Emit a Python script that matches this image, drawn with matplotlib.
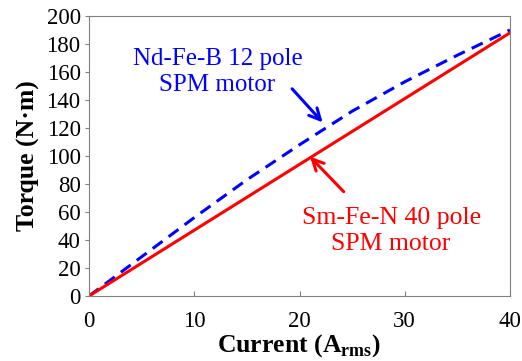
import matplotlib

matplotlib.use("Agg")

import matplotlib.pyplot as plt

# Current (A rms) vs torque (N m)
current = [0, 5, 10, 15, 20, 25, 30, 35, 40]
torque_ndfeb = [0, 28, 56, 83, 108, 132, 153, 172, 190]
torque_smfen = [0, 23.5, 47, 70.5, 94, 117.5, 141, 164.5, 188]

plt.rcParams["font.family"] = "serif"
plt.rcParams["font.serif"] = ["Liberation Serif", "DejaVu Serif"]
plt.rcParams["mathtext.fontset"] = "custom"
plt.rcParams["mathtext.rm"] = "Liberation Serif:bold"
plt.rcParams["mathtext.bf"] = "Liberation Serif:bold"

fig = plt.figure(figsize=(5.22, 3.61), dpi=100)
ax = fig.add_axes([89 / 522, 65 / 361, 421 / 522, 280 / 361])

ax.plot(current, torque_ndfeb, color="#0000ff", linewidth=2.2, linestyle=(0, (4, 2.5)))
ax.plot(current, torque_smfen, color="#ff0000", linewidth=2.2)

ax.set_xlim(0, 40)
ax.set_ylim(0, 200)
ax.set_xticks([0, 10, 20, 30, 40])
ax.set_yticks(range(0, 201, 20))
ax.tick_params(axis="x", direction="in", labelsize=16.5, pad=11, color="#808080")
ax.tick_params(axis="y", direction="out", labelsize=16.5, pad=3, length=3, color="#808080")
for s in ax.spines.values():
    s.set_color("#808080")

ax.set_xlabel("Current (A$_{\\mathregular{rms}}$)", fontsize=18.5, fontweight="bold", labelpad=0)
ax.set_ylabel("Torque (N\u00b7m)", fontsize=18.5, fontweight="bold", labelpad=5)

ax.text(12.2, 160, "Nd-Fe-B 12 pole\nSPM motor", ha="center", va="center",
        color="#0000ff", fontsize=18, linespacing=1.25)
ax.annotate("", xy=(22.2, 124), xytext=(19.3, 148),
            arrowprops=dict(arrowstyle="->", color="#0000ff", lw=2.2,
                            mutation_scale=20, shrinkA=0, shrinkB=0))

ax.text(28.7, 46.5, "Sm-Fe-N 40 pole\nSPM motor", ha="center", va="center",
        color="#ff0000", fontsize=18.5, linespacing=1.22)
ax.annotate("", xy=(21, 99.5), xytext=(24.2, 74.5),
            arrowprops=dict(arrowstyle="->", color="#ff0000", lw=2.2,
                            mutation_scale=20, shrinkA=0, shrinkB=0))

fig.savefig("out.png", dpi=100)
